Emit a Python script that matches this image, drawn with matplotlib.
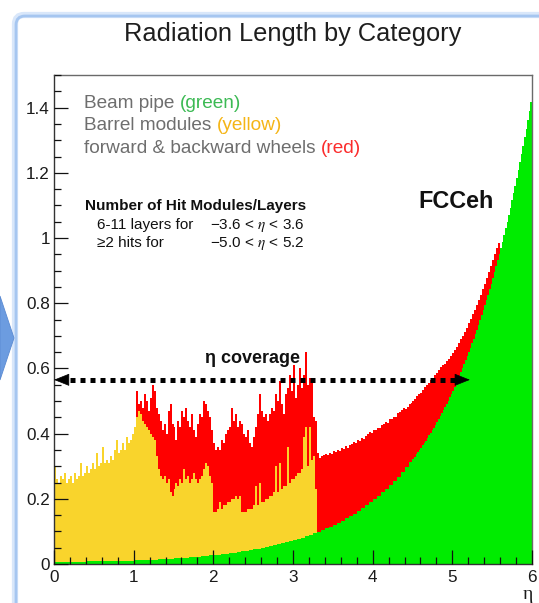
import numpy as np
import matplotlib
matplotlib.use("Agg")
import matplotlib.pyplot as plt
from matplotlib.patches import FancyBboxPatch, Polygon
from matplotlib.transforms import IdentityTransform
from matplotlib.ticker import MultipleLocator, FuncFormatter

plt.rcParams['font.family'] = ['Liberation Sans', 'DejaVu Sans']
plt.rcParams['mathtext.fontset'] = 'stix'

W, H, DPI = 539, 603, 100

# Radiation length X/X0 per eta bin, shown as overlaid histograms:
# beam pipe alone, beam pipe + barrel modules, and everything (incl. wheels).
# Beam pipe: central part in 0.05 bins, forward part in finer 0.02 bins.
pipe_central_eta0, pipe_central_step = 0.0, 0.05
x0_beam_pipe_central = [
    0.0071, 0.0071, 0.0072, 0.0072, 0.0073, 0.0074, 0.0075, 0.0076, 0.0078, 0.0079,
    0.0081, 0.0083, 0.0085, 0.0088, 0.0090, 0.0093, 0.0097, 0.0100, 0.0104, 0.0107,
    0.0112, 0.0116, 0.0121, 0.0126, 0.0131, 0.0137, 0.0143, 0.0149, 0.0156, 0.0163,
    0.0171, 0.0179, 0.0187, 0.0196, 0.0206, 0.0216, 0.0226, 0.0237, 0.0249, 0.0261,
    0.0274, 0.0288, 0.0303, 0.0318, 0.0334, 0.0351, 0.0369, 0.0388, 0.0408, 0.0429,
    0.0446, 0.0469, 0.0493, 0.0518, 0.0544, 0.0572, 0.0601, 0.0631, 0.0663, 0.0697,
    0.0733, 0.0770, 0.0810, 0.0851, 0.0894, 0.0940, 0.0988, 0.1039, 0.1092, 0.1148,
    0.1206, 0.1268, 0.1333, 0.1401, 0.1473, 0.1549, 0.1628, 0.1711, 0.1799, 0.1891,
    0.1988, 0.2090, 0.2197, 0.2310, 0.2428, 0.2552, 0.2683, 0.2821, 0.2965, 0.3117,
]
pipe_forward_eta0, pipe_forward_step = 4.5, 0.02
x0_beam_pipe_forward = [
    0.3228, 0.3293, 0.3359, 0.3427, 0.3497, 0.3567, 0.3639, 0.3713, 0.3788, 0.3864,
    0.3942, 0.4022, 0.4103, 0.4186, 0.4271, 0.4357, 0.4445, 0.4535, 0.4626, 0.4720,
    0.4815, 0.4912, 0.5012, 0.5113, 0.5216, 0.5322, 0.5429, 0.5539, 0.5651, 0.5765,
    0.5881, 0.6000, 0.6121, 0.6245, 0.6371, 0.6500, 0.6631, 0.6765, 0.6902, 0.7041,
    0.7183, 0.7328, 0.7477, 0.7628, 0.7782, 0.7939, 0.8099, 0.8263, 0.8430, 0.8600,
    0.8774, 0.8951, 0.9132, 0.9316, 0.9504, 0.9697, 0.9892, 1.0092, 1.0296, 1.0504,
    1.0716, 1.0933, 1.1153, 1.1379, 1.1609, 1.1843, 1.2082, 1.2326, 1.2576, 1.2829,
    1.3089, 1.3353, 1.3623, 1.3898, 1.4179,
]

barrel_eta0, barrel_step = 0.0, 0.025
x0_pipe_barrel = [
    0.30, 0.26, 0.25, 0.27, 0.26, 0.28, 0.25, 0.26, 0.27, 0.25, 0.28, 0.26,
    0.27, 0.31, 0.27, 0.28, 0.30, 0.28, 0.29, 0.31, 0.29, 0.34, 0.30, 0.31,
    0.36, 0.31, 0.32, 0.31, 0.33, 0.32, 0.35, 0.38, 0.34, 0.35, 0.37, 0.35,
    0.39, 0.37, 0.38, 0.40, 0.42, 0.45, 0.47, 0.46, 0.44, 0.43, 0.42, 0.41,
    0.40, 0.39, 0.38, 0.33,
    0.29, 0.27, 0.26, 0.27, 0.25, 0.26, 0.22, 0.21, 0.23, 0.25, 0.24, 0.26,
    0.25, 0.29, 0.26, 0.27, 0.25, 0.26, 0.28, 0.26, 0.25, 0.26, 0.27, 0.29,
    0.31, 0.30, 0.27, 0.25,
    0.16, 0.16, 0.17, 0.19, 0.17, 0.18, 0.18, 0.19, 0.19, 0.20, 0.20, 0.21,
    0.20, 0.21, 0.16, 0.16, 0.16, 0.17, 0.17, 0.17, 0.18, 0.24, 0.18, 0.25,
    0.19, 0.19, 0.20, 0.20, 0.21, 0.21, 0.22, 0.30, 0.22, 0.31, 0.23, 0.24,
    0.24, 0.36, 0.25, 0.26, 0.26, 0.27, 0.28, 0.28, 0.29, 0.39, 0.42, 0.30,
    0.42, 0.32, 0.33, 0.23,
]

total_eta0, total_step = 1.0, 0.025
x0_total = [
    0.42, 0.53, 0.49, 0.50, 0.48, 0.52, 0.50, 0.47, 0.51, 0.55, 0.53, 0.48,
    0.46, 0.44, 0.41, 0.43, 0.40, 0.47, 0.49, 0.43, 0.42, 0.38, 0.44, 0.42,
    0.47, 0.45, 0.48, 0.44, 0.42, 0.46, 0.41, 0.39, 0.43, 0.46, 0.45, 0.50,
    0.49, 0.47, 0.45, 0.41, 0.37, 0.35, 0.36, 0.35, 0.38, 0.37, 0.40, 0.41,
    0.42, 0.48, 0.44, 0.46, 0.42, 0.44, 0.43, 0.40, 0.39, 0.41, 0.37, 0.36,
    0.39, 0.42, 0.46, 0.52, 0.47, 0.45, 0.46, 0.44, 0.46, 0.48, 0.47, 0.52,
    0.50, 0.56, 0.49, 0.46, 0.52, 0.54, 0.58, 0.53, 0.61, 0.51, 0.55, 0.60,
    0.54, 0.58, 0.65, 0.55, 0.57, 0.56, 0.45, 0.44,
    0.340, 0.325, 0.330, 0.335,
    0.338, 0.334, 0.342, 0.338, 0.346, 0.343, 0.350, 0.347,
    0.355, 0.352, 0.361, 0.357, 0.366, 0.368, 0.374, 0.371,
    0.380, 0.378, 0.386, 0.384, 0.393, 0.398, 0.404, 0.401,
    0.411, 0.410, 0.418, 0.416, 0.425, 0.428, 0.435, 0.433,
    0.444, 0.445, 0.452, 0.450, 0.462, 0.465, 0.472, 0.478,
    0.476, 0.482, 0.490, 0.494, 0.500, 0.506, 0.515, 0.520,
    0.526, 0.535, 0.542, 0.548, 0.556, 0.564, 0.572, 0.580,
    0.586, 0.594, 0.603, 0.610, 0.615, 0.622, 0.630, 0.638,
    0.646, 0.656, 0.667, 0.678, 0.690, 0.700, 0.712, 0.725,
    0.738, 0.752, 0.766, 0.780, 0.795, 0.810, 0.826, 0.843,
    0.860, 0.878, 0.896, 0.914, 0.932, 0.950, 0.968, 0.985,
]

coverage_level = 0.565
coverage_eta = (0.0, 5.22)

RED, YELLOW, GREEN = '#ff0000', '#f9d42c', '#00ec00'
GRAY = '#6e6e6e'


def draw_hist(ax, start, step, values, color):
    """Filled step histogram drawn as a single polygon."""
    vals = np.asarray(values, dtype=float)
    e = np.round(start + step * np.arange(len(vals) + 1), 4)
    ax.fill_between(e, np.append(vals, vals[-1]), 0, step='post',
                    facecolor=color, edgecolor='none', lw=0)


fig = plt.figure(figsize=(W / DPI, H / DPI), dpi=DPI)
fig.patch.set_facecolor('white')

# slide frame and navigation chevron around the plot
px = IdentityTransform()
halo = FancyBboxPatch((15, -40), 620, 603 - 15 + 40, boxstyle='round,pad=0,rounding_size=9',
                      transform=px, facecolor='none', edgecolor='#d9e7fa', lw=4.5)
core = FancyBboxPatch((16, -40), 620, 603 - 16 + 40, boxstyle='round,pad=0,rounding_size=9',
                      transform=px, facecolor='none', edgecolor='#a6c6f0', lw=2.0)
chev = Polygon([(0, H - 296), (14, H - 338), (0, H - 380)], closed=True,
               transform=px, facecolor='#6c9ce0', edgecolor='#5a8ad2', lw=0.6)
for p in (halo, core, chev):
    fig.add_artist(p)

ax = fig.add_axes([54 / W, 1 - 564 / H, 478 / W, 489 / H])
draw_hist(ax, total_eta0, total_step, x0_total, RED)
draw_hist(ax, barrel_eta0, barrel_step, x0_pipe_barrel, YELLOW)
draw_hist(ax, pipe_central_eta0, pipe_central_step, x0_beam_pipe_central, GREEN)
draw_hist(ax, pipe_forward_eta0, pipe_forward_step, x0_beam_pipe_forward, GREEN)

ax.set_xlim(0, 6)
ax.set_ylim(0, 1.5)
ax.xaxis.set_major_locator(MultipleLocator(1))
ax.xaxis.set_minor_locator(MultipleLocator(0.2))
ax.yaxis.set_major_locator(MultipleLocator(0.2))
ax.yaxis.set_minor_locator(MultipleLocator(0.05))
ax.yaxis.set_major_formatter(FuncFormatter(lambda v, p: f"{v:g}"))
ax.xaxis.set_major_formatter(FuncFormatter(lambda v, p: f"{v:g}"))
ax.tick_params(which='both', direction='in', top=False, right=False, color='#111111')
ax.tick_params(which='major', length=9.8, width=0.9, labelsize=12.3, labelcolor='#1a1a1a')
ax.tick_params(which='minor', length=5, width=0.9)
ax.tick_params(axis='y', pad=3)
ax.tick_params(axis='x', pad=4.5)
for name, sp in ax.spines.items():
    sp.set_linewidth(1.0)
    sp.set_color('#333333' if name in ('left', 'bottom') else '#6a6a6a')
ax.set_axisbelow(False)

# eta coverage arrow
x_lo, x_hi = coverage_eta
ax.plot([x_lo + 0.2, x_hi - 0.16], [coverage_level, coverage_level], color='black',
        lw=3.6, linestyle=(0, (1, 1)), dash_capstyle='butt', zorder=5)
for tip, base in ((x_lo, x_lo + 0.17), (x_hi, x_hi - 0.17)):
    ax.annotate('', xy=(tip, coverage_level), xytext=(base, coverage_level),
                arrowprops=dict(arrowstyle='-|>,head_length=0.5,head_width=0.2',
                                mutation_scale=20, color='black', lw=0.5,
                                shrinkA=0, shrinkB=0), zorder=6)

renderer = fig.canvas.get_renderer()


def text_run(x, y, parts, size, weight='normal', gap=0.278):
    """Write consecutive text pieces on one baseline (pixel coords from top-left)."""
    for s, c in parts:
        t = fig.text(x / W, 1 - y / H, s, color=c, fontsize=size, fontweight=weight,
                     ha='left', va='baseline')
        bb = t.get_window_extent(renderer)
        x = bb.x1 + gap * size * DPI / 72


fig.text(293 / W, 1 - 41 / H, 'Radiation Length by Category', ha='center', va='baseline',
         fontsize=18.3, color='#1e1e1e')

text_run(84, 108, [('Beam pipe', GRAY), ('(green)', '#3cba54')], 13.7)
text_run(84, 130.5, [('Barrel modules', GRAY), ('(yellow)', '#f5b516')], 13.7)
text_run(84, 153, [('forward & backward wheels', GRAY), ('(red)', '#fb2c2c')], 13.7)

fig.text(85 / W, 1 - 210 / H, 'Number of Hit Modules/Layers', fontsize=11,
         fontweight='bold', ha='left', va='baseline', color='#111111')
fig.text(97 / W, 1 - 229 / H, '6-11 layers for', fontsize=11, ha='left', va='baseline', color='#111111')
fig.text(210 / W, 1 - 229 / H, r'−3.6 < $\eta$ < 3.6', fontsize=11, ha='left', va='baseline', color='#111111')
fig.text(97 / W, 1 - 247 / H, '≥2 hits for', fontsize=11, ha='left', va='baseline', color='#111111')
fig.text(210 / W, 1 - 247 / H, r'−5.0 < $\eta$ < 5.2', fontsize=11, ha='left', va='baseline', color='#111111')

fig.text(418 / W, 1 - 208 / H, 'FCCeh', fontsize=16.8, fontweight='bold', ha='left',
         va='baseline', color='#111111')
fig.text(205 / W, 1 - 363 / H, 'η coverage', fontsize=13, fontweight='bold', ha='left',
         va='baseline', color='#111111')

fig.text(528 / W, 1 - 599 / H, 'η', fontsize=14, family='Liberation Serif', ha='center',
         va='baseline', color='#1a1a1a')

fig.savefig('out.png', dpi=DPI, facecolor='white')
